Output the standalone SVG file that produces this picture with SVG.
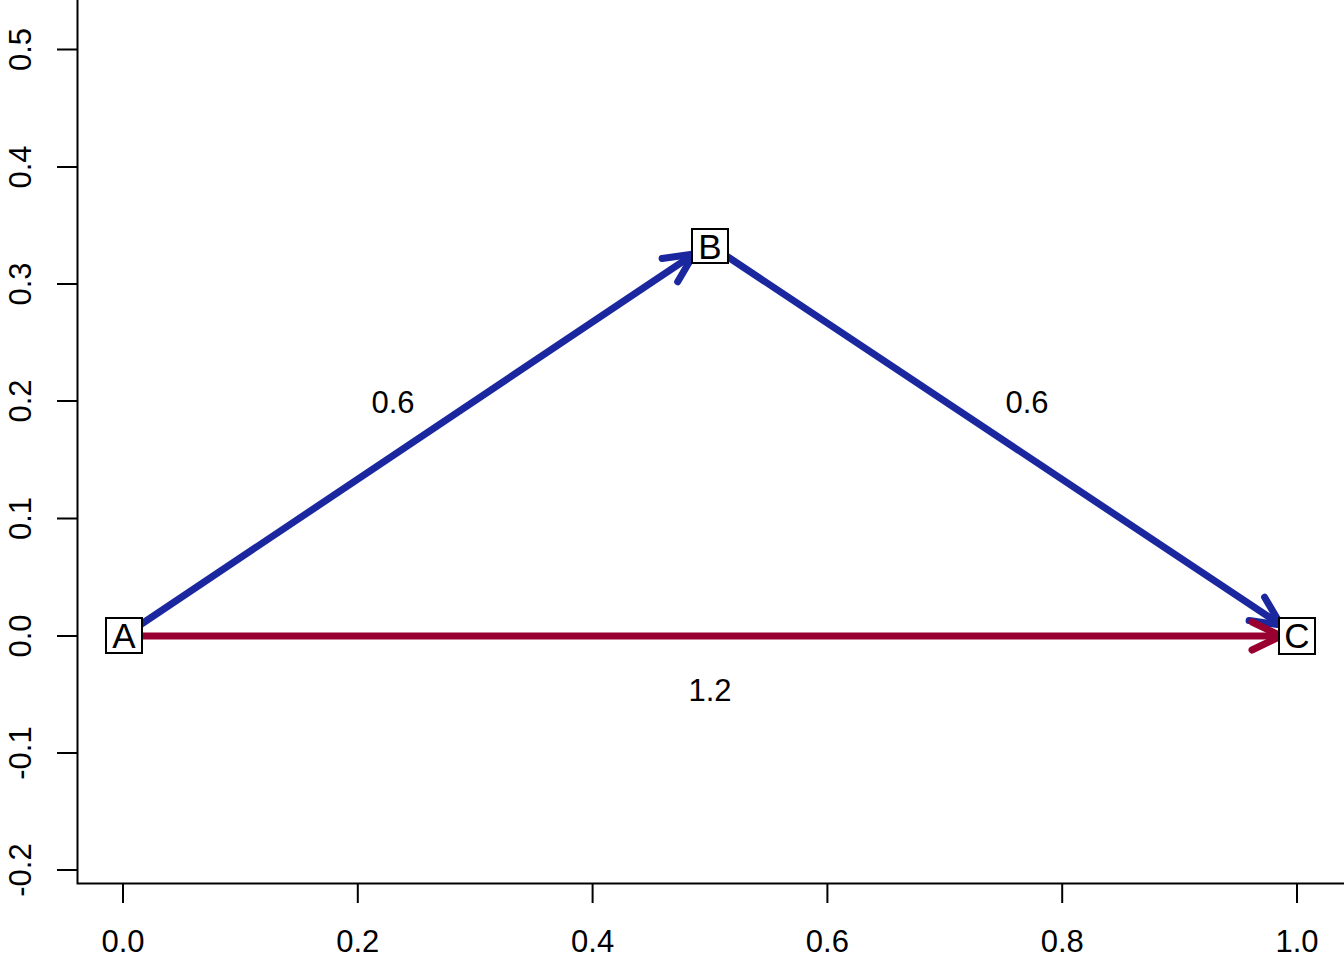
<svg xmlns="http://www.w3.org/2000/svg" width="1344" height="960" viewBox="0 0 1344 960">
<style>
.ax{stroke:#000;stroke-width:2;fill:none}
.lbl{font-family:"Liberation Sans",Arial,sans-serif;font-size:31px;fill:#000;text-anchor:middle}
.nlbl{font-family:"Liberation Sans",Arial,sans-serif;font-size:35px;fill:#000;text-anchor:middle}
.box{fill:#fff;stroke:#000;stroke-width:2}
.eb{stroke:#1a279e;stroke-width:7;stroke-linecap:round;fill:none}
.er{stroke:#990030;stroke-width:7;stroke-linecap:round;fill:none}
</style>
<defs>
<marker id="ahb" markerUnits="userSpaceOnUse" viewBox="-40 -25 50 50" markerWidth="50" markerHeight="50" refX="0" refY="0" orient="auto" overflow="visible">
<path d="M-29,-14 L0,0 L-29,14" fill="none" stroke="#1a279e" stroke-width="7" stroke-linecap="round" stroke-linejoin="round"/>
</marker>
<marker id="ahr" markerUnits="userSpaceOnUse" viewBox="-40 -25 50 50" markerWidth="50" markerHeight="50" refX="0" refY="0" orient="auto" overflow="visible">
<path d="M-29,-14 L0,0 L-29,14" fill="none" stroke="#990030" stroke-width="7" stroke-linecap="round" stroke-linejoin="round"/>
</marker>
</defs>
<rect width="1344" height="960" fill="#fff"/>
<g id="axes">
<path class="ax" d="M77.5,0 V883.5 H1344"/>
<path class="ax" d="M57,49.5 H77.5 M57,167 H77.5 M57,284 H77.5 M57,401 H77.5 M57,518.5 H77.5 M57,636 H77.5 M57,753 H77.5 M57,870 H77.5"/>
<path class="ax" d="M123,883.5 V903 M357.8,883.5 V903 M592.6,883.5 V903 M827.4,883.5 V903 M1062.2,883.5 V903 M1297,883.5 V903"/>
<text class="lbl" x="123" y="952">0.0</text>
<text class="lbl" x="357.8" y="952">0.2</text>
<text class="lbl" x="592.6" y="952">0.4</text>
<text class="lbl" x="827.4" y="952">0.6</text>
<text class="lbl" x="1062.2" y="952">0.8</text>
<text class="lbl" x="1297" y="952">1.0</text>
<text class="lbl" transform="translate(31,870) rotate(-90)">-0.2</text>
<text class="lbl" transform="translate(31,753) rotate(-90)">-0.1</text>
<text class="lbl" transform="translate(31,636) rotate(-90)">0.0</text>
<text class="lbl" transform="translate(31,518.5) rotate(-90)">0.1</text>
<text class="lbl" transform="translate(31,401) rotate(-90)">0.2</text>
<text class="lbl" transform="translate(31,284) rotate(-90)">0.3</text>
<text class="lbl" transform="translate(31,167) rotate(-90)">0.4</text>
<text class="lbl" transform="translate(31,49.5) rotate(-90)">0.5</text>
</g>
<g id="edges">
<line class="eb" x1="140" y1="625" x2="694" y2="254" marker-end="url(#ahb)"/>
<line class="eb" x1="728" y1="257" x2="1281" y2="625" marker-end="url(#ahb)"/>
<line class="er" x1="142" y1="636" x2="1281" y2="636" marker-end="url(#ahr)"/>
<text class="lbl" x="393" y="413">0.6</text>
<text class="lbl" x="1027" y="413">0.6</text>
<text class="lbl" x="710" y="701">1.2</text>
</g>
<g id="node-A">
<rect class="box" x="106" y="618" width="36" height="35"/>
<text class="nlbl" x="124" y="648">A</text>
</g>
<g id="node-B">
<rect class="box" x="692" y="229" width="36" height="34"/>
<text class="nlbl" x="710" y="259">B</text>
</g>
<g id="node-C">
<rect class="box" x="1279" y="618" width="36" height="36"/>
<text class="nlbl" x="1297" y="648">C</text>
</g>
</svg>
